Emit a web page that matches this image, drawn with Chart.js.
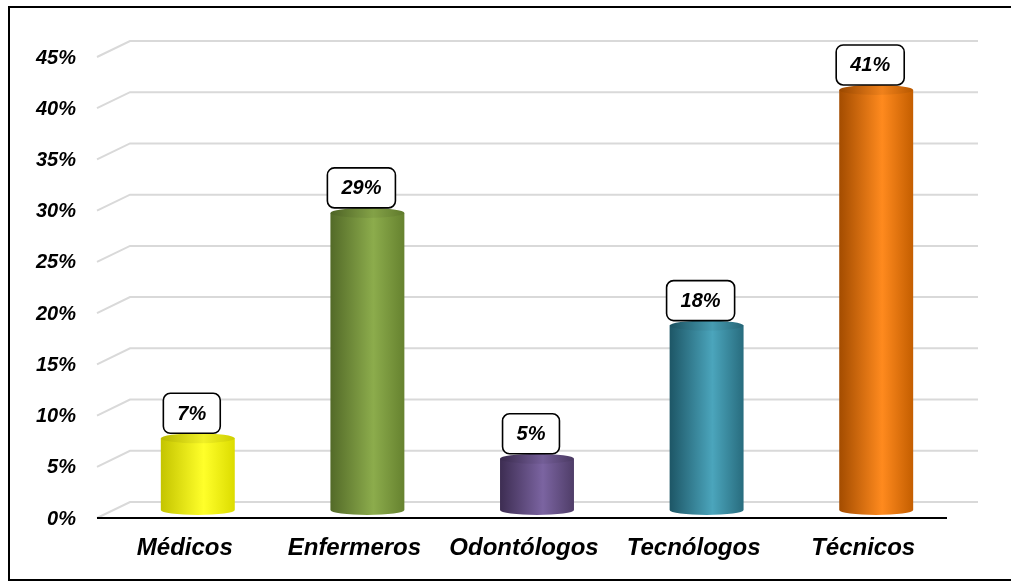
<!DOCTYPE html>
<html>
<head>
<meta charset="utf-8">
<script src="https://cdn.jsdelivr.net/npm/chart.js@4.4.1/dist/chart.umd.min.js"></script>
<style>
    html, body {
        margin: 0;
        padding: 0;
        background: #ffffff;
    }
    canvas {
        display: block;
    }
</style>
</head>
<body>

<canvas id="personalChart" width="1011" height="582"></canvas>

<script>

// ==========================
// DATOS
// ==========================

const categorias = [
    "Médicos",
    "Enfermeros",
    "Odontólogos",
    "Tecnólogos",
    "Técnicos"
];

const porcentajes = [7, 29, 5, 18, 41];

const ticksY = [0, 5, 10, 15, 20, 25, 30, 35, 40, 45];

// borde oscuro, brillo, borde derecho
const coloresCilindro = [
    ["#c4c400", "#ffff2a", "#dcdc00"],
    ["#536a28", "#8cac4c", "#66822f"],
    ["#3d2d52", "#7b64a1", "#4f3d68"],
    ["#1d5666", "#4ba5bc", "#286c7e"],
    ["#a34c00", "#ff8a1e", "#c45e00"]
];

const FUENTE = "'Liberation Sans', Arial, sans-serif";

// profundidad del efecto 3D
const FONDO_X = 17;
const FONDO_Y = 8;


// ==========================
// GRADIENTE CILINDRO
// ==========================

function gradienteCilindro(ctx, x, w, colores) {

    const g = ctx.createLinearGradient(x - w / 2, 0, x + w / 2, 0);

    g.addColorStop(0, colores[0]);
    g.addColorStop(0.58, colores[1]);
    g.addColorStop(1, colores[2]);

    return g;

}


// ==========================
// CUADRICULA 3D
// ==========================

const cuadricula3D = {

    id: "cuadricula3D",

    beforeDatasetsDraw(chart) {

        const ctx = chart.ctx;
        const area = chart.chartArea;
        const y = chart.scales.y;

        ctx.save();

        ctx.strokeStyle = "#d9d9d9";
        ctx.lineWidth = 2;

        ticksY.forEach(v => {

            const py = y.getPixelForValue(v);

            ctx.beginPath();
            ctx.moveTo(area.left - 16, py + FONDO_Y);
            ctx.lineTo(area.left + FONDO_X, py - FONDO_Y);
            ctx.lineTo(area.right + FONDO_X, py - FONDO_Y);
            ctx.stroke();

        });

        // linea base frontal
        const p0 = y.getPixelForValue(0);

        ctx.strokeStyle = "#000000";
        ctx.lineWidth = 2;
        ctx.beginPath();
        ctx.moveTo(area.left - 16, p0 + FONDO_Y);
        ctx.lineTo(area.right - 14, p0 + FONDO_Y);
        ctx.stroke();

        // gradientes de las barras
        const meta = chart.getDatasetMeta(0);

        meta.data.forEach((bar, i) => {

            bar.options.backgroundColor =
            gradienteCilindro(ctx, bar.x, bar.width, coloresCilindro[i]);

        });

        ctx.restore();

    }

};


// ==========================
// TAPAS Y ETIQUETAS
// ==========================

const tapasEtiquetas = {

    id: "tapasEtiquetas",

    afterDatasetsDraw(chart) {

        const ctx = chart.ctx;
        const meta = chart.getDatasetMeta(0);
        const ry = 5;

        ctx.save();

        meta.data.forEach((bar, i) => {

            const rx = bar.width / 2;
            const grad =
            gradienteCilindro(ctx, bar.x, bar.width, coloresCilindro[i]);

            // fondo redondeado
            ctx.fillStyle = grad;
            ctx.beginPath();
            ctx.ellipse(bar.x, bar.base, rx, ry, 0, 0, Math.PI);
            ctx.fill();

            // tapa superior
            ctx.beginPath();
            ctx.ellipse(bar.x, bar.y, rx, ry, 0, 0, Math.PI * 2);
            ctx.fill();
            ctx.fillStyle = "rgba(0,0,0,0.06)";
            ctx.fill();

            // etiqueta
            const texto = porcentajes[i] + "%";

            ctx.font = "italic bold 20px " + FUENTE;

            const tw = ctx.measureText(texto).width;
            const bw = tw + 28;
            const bh = 40;
            const bx = bar.x - 6 - bw / 2;
            const by = bar.y - ry - bh;

            ctx.beginPath();
            ctx.roundRect(bx, by, bw, bh, 7);
            ctx.fillStyle = "#ffffff";
            ctx.fill();
            ctx.lineWidth = 1.6;
            ctx.strokeStyle = "#000000";
            ctx.stroke();

            ctx.fillStyle = "#000000";
            ctx.textAlign = "center";
            ctx.textBaseline = "middle";
            ctx.fillText(texto, bx + bw / 2, by + bh / 2 + 1);

        });

        ctx.restore();

    },

    afterDraw(chart) {

        const ctx = chart.ctx;

        ctx.save();
        ctx.strokeStyle = "#000000";
        ctx.lineWidth = 2;
        ctx.strokeRect(9, 7, 1010, 573);
        ctx.restore();

    }

};


// ==========================
// GRAFICO
// ==========================

const canvas =
document.getElementById("personalChart");

new Chart(canvas, {

    type: "bar",

    data: {

        labels: categorias,

        datasets: [

            {

                data: porcentajes,

                backgroundColor: coloresCilindro.map(c => c[1]),

                borderWidth: 0,

                barPercentage: 0.436,

                categoryPercentage: 1

            }

        ]

    },

    options: {

        responsive: false,

        animation: false,

        devicePixelRatio: 1,

        layout: {
            padding: {
                left: 0,
                top: 49,
                right: 50,
                bottom: 0
            }
        },

        plugins: {

            legend: {
                display: false
            },

            tooltip: {
                enabled: false
            }

        },

        scales: {

            x: {

                grid: {
                    display: false,
                    drawTicks: false
                },

                border: {
                    display: false
                },

                ticks: {
                    color: "#000000",
                    padding: 24,
                    labelOffset: -13,
                    maxRotation: 0,
                    font: {
                        family: FUENTE,
                        size: 24,
                        weight: "bold",
                        style: "italic"
                    }
                },

                afterFit(scale) {
                    scale.height = 72;
                }

            },

            y: {

                min: 0,

                max: 45,

                grid: {
                    display: false,
                    drawTicks: false
                },

                border: {
                    display: false
                },

                ticks: {
                    stepSize: 5,
                    color: "#000000",
                    padding: 37,
                    labelOffset: 9,
                    font: {
                        family: FUENTE,
                        size: 20,
                        weight: "bold",
                        style: "italic"
                    },
                    callback: v => v + "%"
                },

                afterFit(scale) {
                    scale.width = 113;
                }

            }

        }

    },

    plugins: [cuadricula3D, tapasEtiquetas]

});

</script>

</body>
</html>
